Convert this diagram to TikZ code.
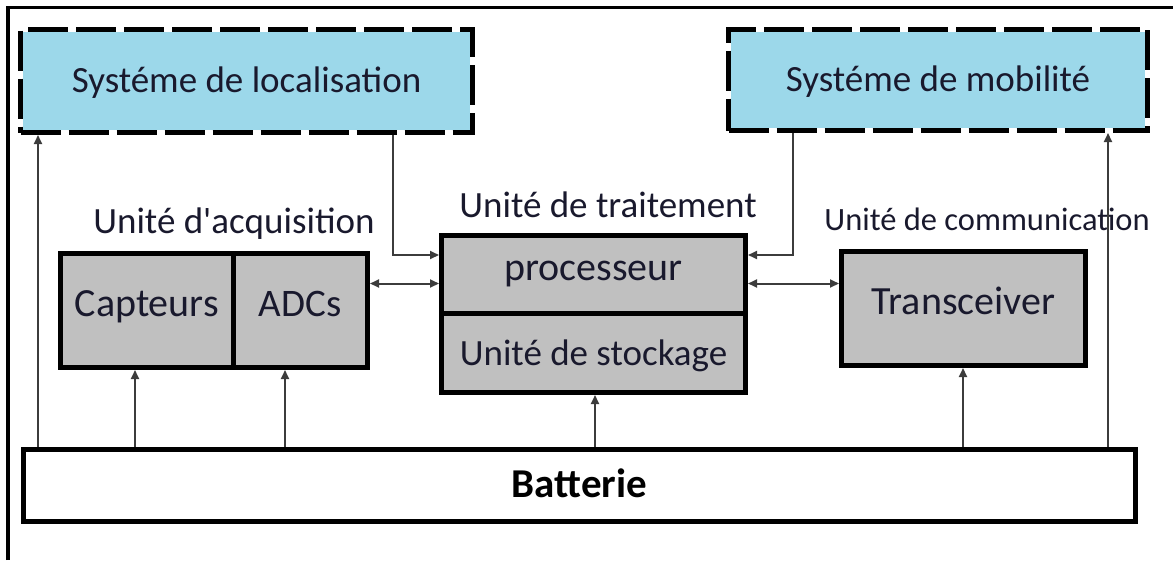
\documentclass[tikz,border=0pt]{standalone}
\usepackage{fontspec}
\setmainfont{Carlito}[Ligatures=TeXOff]
\usetikzlibrary{arrows.meta}
\definecolor{locblue}{RGB}{156,216,234}
\definecolor{boxgray}{RGB}{192,192,192}
\definecolor{txt}{RGB}{25,25,45}
\definecolor{wire}{RGB}{60,60,60}
\begin{document}
\begin{tikzpicture}[x=1pt,y=-1pt,
  solidbox/.style={draw=black, line width=5pt, fill=boxgray, rectangle, inner sep=0pt, text=txt},
  dashbox/.style={draw=none, fill=locblue, rectangle, inner sep=0pt, outer sep=2.5pt, text=txt,
    postaction={draw=white, line width=5pt},
    postaction={draw=black, line width=5pt, dash pattern=on 40pt off 8pt}},
  lbl/.style={anchor=base, inner sep=0pt, text=txt},
  fs/.style={font=\fontsize{#1}{#1}\selectfont},
  arr/.style={draw=wire, line width=2pt, -{Triangle[length=9pt,width=8pt]}},
  darr/.style={draw=wire, line width=2pt, {Triangle[length=9pt,width=8pt]}-{Triangle[length=9pt,width=8pt]}},
]
\useasboundingbox (0,0) rectangle (1173,560);
% outer frame
\draw[line width=3.5pt] (8,560) -- (8,7.5) -- (1173,7.5);

% top systems
\node[dashbox, fs=37, minimum width=452pt, minimum height=103pt, text height=22pt, text depth=0pt] (loc) at (246.5,81) {Systéme de localisation};
\node[dashbox, fs=37, minimum width=419pt, minimum height=101pt, text height=22pt, text depth=0pt] (mob) at (938,80) {Systéme de mobilité};

% acquisition unit
\node[solidbox, fs=40, minimum width=172.5pt, minimum height=114pt, text height=11pt, text depth=0pt] (capt) at (146.75,310.5) {Capteurs};
\node[solidbox, fs=39, minimum width=134.5pt, minimum height=114pt, text height=11pt, text depth=0pt] (adc) at (300.25,310.5) {ADCs};
\node[lbl, fs=37] (acqT) at (234,233) {Unité d'acquisition};

% processing unit
\node[solidbox, fs=40, minimum width=304pt, minimum height=77.5pt, text height=11.5pt, text depth=0pt] (proc) at (593.5,274.25) {processeur};
\node[solidbox, fs=37, minimum width=304pt, minimum height=79.5pt, text height=24.5pt, text depth=0pt] (stock) at (593.5,352.75) {Unité de stockage};
\node[lbl, fs=37] (traitT) at (608,217) {Unité de traitement};

% communication unit
\node[solidbox, fs=40, minimum width=244pt, minimum height=114pt, text height=11pt, text depth=0pt] (trans) at (963.5,308.5) {Transceiver};
\node[lbl, fs=32.5] (comT) at (987,230) {Unité de communication};

% battery
\node[solidbox, fill=white, text=black, font=\fontsize{41}{41}\selectfont\bfseries, minimum width=1112pt, minimum height=72pt, text height=23pt, text depth=0pt] (bat) at (579.5,485.5) {Batterie};

% connector helper coordinates
\coordinate (cL) at (38,0);
\coordinate (cC) at (135,0);
\coordinate (cA) at (285,0);
\coordinate (cS) at (595,0);
\coordinate (cT) at (963,0);
\coordinate (cM) at (1108,0);
\coordinate (kL) at (393,255);
\coordinate (kM) at (793,255);
\coordinate (hA) at (0,283.5);

% power lines
\draw[arr] (bat.north -| cL) -- (loc.south -| cL);
\draw[arr] (bat.north -| cC) -- (capt.south -| cC);
\draw[arr] (bat.north -| cA) -- (adc.south -| cA);
\draw[arr] (bat.north -| cS) -- (stock.south -| cS);
\draw[arr] (bat.north -| cT) -- (trans.south -| cT);
\draw[arr] (bat.north -| cM) -- (mob.south -| cM);

% data lines
\draw[arr] (loc.south -| kL) -- (kL) -- (proc.west |- kL);
\draw[arr] (mob.south -| kM) -- (kM) -- (proc.east |- kM);
\draw[darr] (adc.east |- hA) -- (proc.west |- hA);
\draw[darr] (proc.east |- hA) -- (trans.west |- hA);
\end{tikzpicture}
\end{document}
